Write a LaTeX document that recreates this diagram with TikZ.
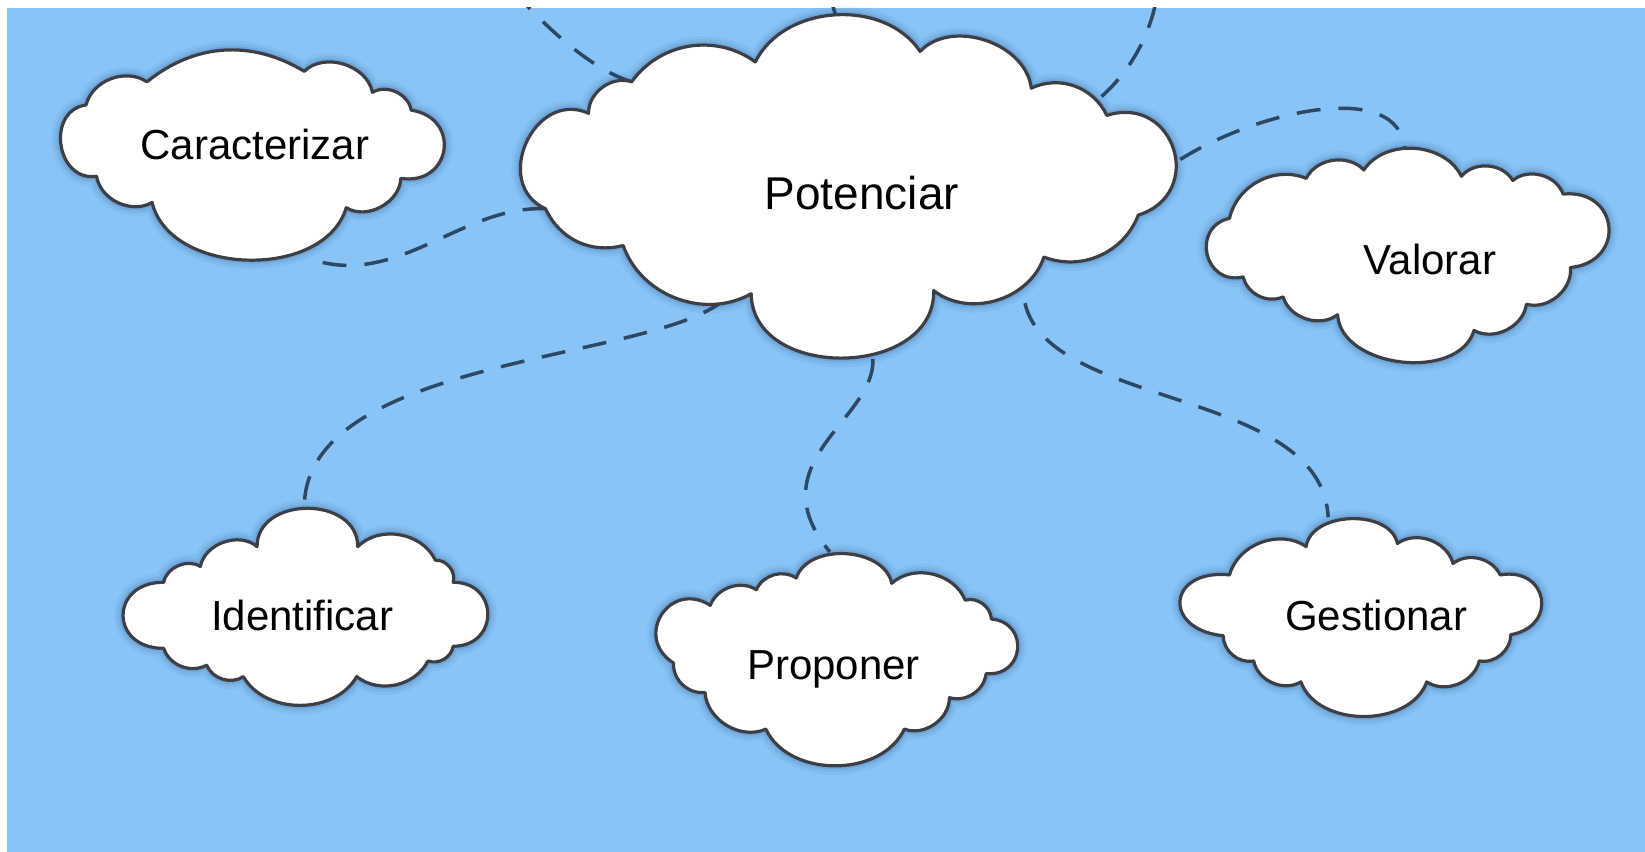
\documentclass[tikz,border=0pt]{standalone}
\usepackage{fontspec}
\setmainfont{Liberation Sans}
\definecolor{bgblue}{RGB}{136,196,248}
\definecolor{outl}{RGB}{60,64,70}
\definecolor{dashc}{RGB}{45,72,98}
\definecolor{shadowc}{RGB}{25,60,110}
\newcommand{\mycloud}[1]{%
  \draw[shadowc, line width=18pt, opacity=0.05, line join=round] #1;
  \draw[shadowc, line width=12pt, opacity=0.07, line join=round] #1;
  \draw[shadowc, line width=7pt, opacity=0.10, line join=round] #1;
  \filldraw[cloudline] #1;}
\begin{document}
\begin{tikzpicture}[x=1.0491pt,y=-1.0491pt,
  conn/.style={draw=dashc, line width=3.5pt, dash pattern=on 24pt off 18pt},
  lbl/.style={font=\fontsize{42}{50}\selectfont, anchor=base, inner sep=0pt, text=black},
  cloudline/.style={fill=white, draw=outl, line width=3.2pt, line join=round}]
\useasboundingbox (0,0) rectangle (1568,812);
\fill[white] (0,0) rectangle (1568,812);
\fill[bgblue] (6.7,7.6) rectangle (1568,812);

% connector end points
\coordinate (potTL) at (602,78);   \coordinate (topL) at (488,-10);
\coordinate (potTop) at (797,16);  \coordinate (topM) at (789,-10);
\coordinate (potTR) at (1050,92);  \coordinate (topR) at (1104,-10);
\coordinate (potR) at (1125,152);  \coordinate (valT) at (1339,143);
\coordinate (potL) at (521,199);   \coordinate (carB) at (296,247);
\coordinate (potBL) at (690,286);  \coordinate (idT) at (290,484);
\coordinate (potB) at (832,342);   \coordinate (proT) at (791,526);
\coordinate (potBR) at (977,289);  \coordinate (gesT) at (1266,493);

\begin{scope}
\clip (6.7,7.6) rectangle (1568,812);
\draw[conn] (potTL) .. controls (560,65) and (515,20) .. (topL);
\draw[conn] (potTop) -- (topM);
\draw[conn] (potTR) .. controls (1080,65) and (1098,30) .. (topR);
\draw[conn] (potR) .. controls (1200,105) and (1335,75) .. (valT);
\draw[conn] (potL) .. controls (440,195) and (380,275) .. (carB);
\draw[conn] (potBL) .. controls (620,345) and (290,340) .. (idT);
\draw[conn] (potB) .. controls (835,400) and (720,440) .. (proT);
\draw[conn] (potBR) .. controls (1000,390) and (1260,370) .. (gesT);
\end{scope}

% Caracterizar
\mycloud{(82,100) to[bend left=55] (140,78) to[bend left=35] (290,68) to[bend left=62] (355,88) to[bend left=55] (392,105) to[bend left=90,looseness=1.9] (382,170) to[bend left=60] (330,198) to[bend left=75] (145,193) to[bend left=55] (92,168) to[bend left=90,looseness=1.45] (82,100) -- cycle}
% Potenciar
\mycloud{(561,108) to[bend left=55] (602,78) to[bend left=45] (720,59) to[bend left=60] (877,49) to[bend left=65] (983,84) to[bend left=45] (1055,110) to[bend left=90,looseness=1.75] (1085,205) to[bend left=45] (995,245) to[bend left=55] (890,277) to[bend left=90,looseness=1.23] (716,280) to[bend left=50] (594,234) to[bend left=40] (520,199) to[bend left=90,looseness=1.46] (561,108) -- cycle}
% Valorar
\mycloud{(1172,208) to[bend left=50] (1245,170) to[bend left=55] (1300,162) to[bend left=60] (1393,168) to[bend left=55] (1442,172) to[bend left=55] (1490,185) to[bend left=90,looseness=1.95] (1497,255) to[bend left=55] (1455,290) to[bend left=55] (1405,315) to[bend left=80] (1275,300) to[bend left=55] (1223,283) to[bend left=50] (1185,264) to[bend left=90,looseness=1.7] (1172,208) -- cycle}
% Identificar
\mycloud{(156,555) to[bend left=55] (191,540) to[bend left=60] (245,521) to[bend left=90,looseness=1.3] (341,521) to[bend left=55] (415,534) to[bend left=55] (432,555) to[bend left=90,looseness=1.85] (432,616) to[bend left=50] (408,630) to[bend left=50] (340,645) to[bend left=60] (232,645) to[bend left=50] (197,634) to[bend left=50] (156,618) to[bend left=90,looseness=2.1] (156,555) -- cycle}
% Proponer
\mycloud{(677,577) to[bend left=50] (721,562) to[bend left=50] (759,551) to[bend left=75] (850,556) to[bend left=55] (920,572) to[bend left=50] (945,590) to[bend left=90,looseness=1.8] (940,642) to[bend left=50] (905,665) to[bend left=55] (862,695) to[bend left=65] (730,695) to[bend left=55] (672,660) to[bend left=50] (642,632) to[bend left=90,looseness=1.8] (677,577) -- cycle}
% Gestionar
\mycloud{(1172,548) to[bend left=55] (1245,521) to[bend left=80] (1332,518) to[bend left=55] (1385,537) to[bend left=50] (1430,548) to[bend left=90,looseness=2.05] (1440,605) to[bend left=50] (1410,630) to[bend left=55] (1360,650) to[bend left=70] (1240,650) to[bend left=55] (1195,630) to[bend left=50] (1166,606) to[bend left=90,looseness=2.6] (1172,548) -- cycle}

\node[lbl] (car) at (243,152.5) {Caracterizar};
\node[lbl, font=\fontsize{46}{54}\selectfont] (pot) at (821.5,200) {Potenciar};
\node[lbl] (val) at (1363,262) {Valorar};
\node[lbl] (ide) at (288,600.6) {Identificar};
\node[lbl] (pro) at (794.5,648) {Proponer};
\node[lbl] (ges) at (1311.7,600.6) {Gestionar};
\end{tikzpicture}
\end{document}
